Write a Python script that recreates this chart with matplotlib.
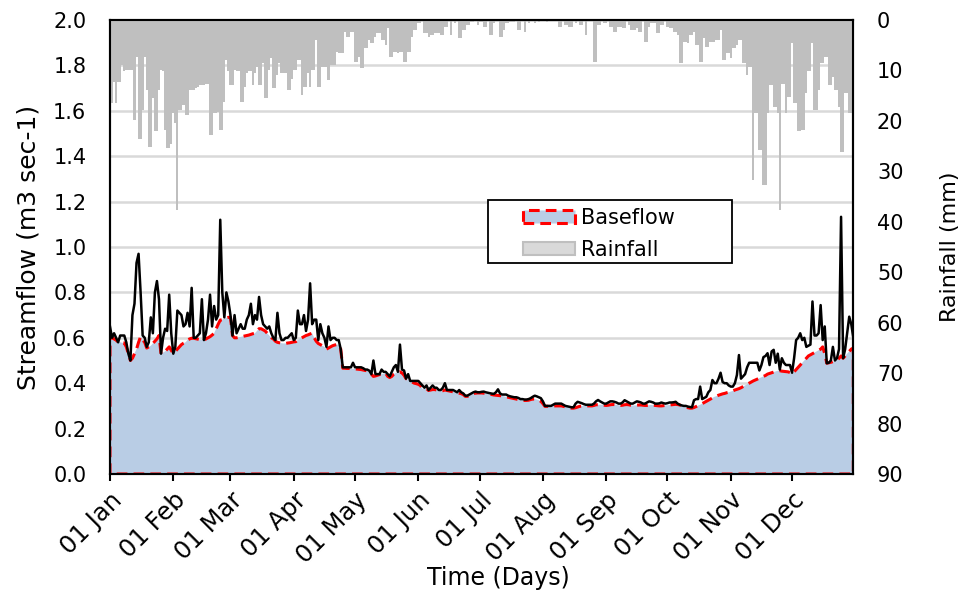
import matplotlib

matplotlib.use("Agg")
import matplotlib.pyplot as plt
import numpy as np
from matplotlib.patches import Patch, Rectangle

# daily streamflow (m3/s), day 0 = 01 Jan
flow = [
    0.65, 0.60, 0.62, 0.60, 0.58, 0.61, 0.61, 0.61, 0.58, 0.53,
    0.50, 0.70, 0.75, 0.93, 0.97, 0.80, 0.61, 0.60, 0.56, 0.58,
    0.69, 0.62, 0.80, 0.85, 0.77, 0.53, 0.60, 0.64, 0.63, 0.79,
    0.62, 0.53, 0.56, 0.72, 0.71, 0.70, 0.65, 0.66, 0.71, 0.65,
    0.82, 0.60, 0.60, 0.61, 0.62, 0.77, 0.59, 0.62, 0.68, 0.79,
    0.65, 0.74, 0.68, 0.70, 1.12, 0.80, 0.69, 0.80, 0.76, 0.70,
    0.61, 0.70, 0.62, 0.64, 0.66, 0.64, 0.64, 0.68, 0.70, 0.75,
    0.66, 0.70, 0.68, 0.78, 0.70, 0.66, 0.65, 0.64, 0.65, 0.62,
    0.60, 0.59, 0.71, 0.62, 0.59, 0.59, 0.60, 0.60, 0.61, 0.62,
    0.59, 0.60, 0.72, 0.66, 0.66, 0.70, 0.63, 0.68, 0.84, 0.66,
    0.68, 0.68, 0.59, 0.66, 0.62, 0.60, 0.56, 0.65, 0.59, 0.60,
    0.60, 0.59, 0.59, 0.55, 0.47, 0.47, 0.47, 0.47, 0.47, 0.49,
    0.47, 0.47, 0.47, 0.47, 0.466, 0.46, 0.46, 0.455, 0.44, 0.50,
    0.44, 0.44, 0.44, 0.46, 0.45, 0.45, 0.44, 0.43, 0.45, 0.47,
    0.48, 0.45, 0.57, 0.46, 0.456, 0.42, 0.44, 0.41, 0.41, 0.41,
    0.41, 0.41, 0.40, 0.39, 0.38, 0.39, 0.37, 0.38, 0.39, 0.38,
    0.38, 0.37, 0.37, 0.38, 0.40, 0.37, 0.37, 0.37, 0.37, 0.365,
    0.36, 0.37, 0.36, 0.355, 0.345, 0.345, 0.35, 0.355, 0.36, 0.363,
    0.36, 0.36, 0.362, 0.363, 0.36, 0.358, 0.356, 0.354, 0.353, 0.36,
    0.373, 0.355, 0.35, 0.35, 0.35, 0.345, 0.342, 0.34, 0.338, 0.338,
    0.335, 0.33, 0.33, 0.328, 0.328, 0.33, 0.334, 0.34, 0.345, 0.342,
    0.338, 0.334, 0.32, 0.30, 0.30, 0.30, 0.30, 0.305, 0.31, 0.31,
    0.31, 0.31, 0.305, 0.30, 0.298, 0.296, 0.294, 0.294, 0.31, 0.318,
    0.315, 0.312, 0.308, 0.305, 0.305, 0.305, 0.305, 0.31, 0.32, 0.326,
    0.32, 0.315, 0.31, 0.31, 0.315, 0.32, 0.32, 0.318, 0.315, 0.31,
    0.31, 0.315, 0.325, 0.32, 0.315, 0.31, 0.31, 0.315, 0.32, 0.318,
    0.315, 0.31, 0.31, 0.315, 0.32, 0.318, 0.315, 0.31, 0.31, 0.311,
    0.315, 0.312, 0.31, 0.312, 0.315, 0.315, 0.316, 0.318, 0.31, 0.305,
    0.302, 0.30, 0.30, 0.297, 0.295, 0.294, 0.325, 0.33, 0.33, 0.385,
    0.33, 0.335, 0.34, 0.36, 0.37, 0.414, 0.40, 0.40, 0.42, 0.446,
    0.405, 0.40, 0.40, 0.39, 0.385, 0.385, 0.40, 0.436, 0.524, 0.42,
    0.43, 0.44, 0.47, 0.49, 0.49, 0.49, 0.49, 0.49, 0.456, 0.48,
    0.515, 0.52, 0.532, 0.48, 0.54, 0.547, 0.49, 0.53, 0.46, 0.51,
    0.49, 0.48, 0.48, 0.48, 0.446, 0.51, 0.59, 0.60, 0.62, 0.59,
    0.60, 0.56, 0.565, 0.57, 0.76, 0.61, 0.61, 0.62, 0.744, 0.59,
    0.65, 0.488, 0.49, 0.50, 0.56, 0.50, 0.51, 0.55, 1.133, 0.51,
    0.55, 0.62, 0.693, 0.66, 0.60,
]

# separated baseflow (m3/s)
baseflow = [
    0.60, 0.60, 0.595, 0.59, 0.58, 0.58, 0.578, 0.577, 0.56, 0.53,
    0.50, 0.51, 0.53, 0.55, 0.58, 0.605, 0.59, 0.58, 0.555, 0.56,
    0.565, 0.575, 0.585, 0.595, 0.61, 0.53, 0.535, 0.54, 0.55, 0.56,
    0.545, 0.53, 0.54, 0.55, 0.56, 0.57, 0.576, 0.58, 0.59, 0.595,
    0.598, 0.598, 0.596, 0.594, 0.592, 0.59, 0.59, 0.595, 0.60, 0.605,
    0.612, 0.62, 0.64, 0.66, 0.678, 0.68, 0.685, 0.688, 0.69, 0.69,
    0.61, 0.60, 0.60, 0.602, 0.604, 0.606, 0.608, 0.61, 0.612, 0.615,
    0.618, 0.62, 0.63, 0.64, 0.64, 0.635, 0.63, 0.62, 0.61, 0.60,
    0.595, 0.585, 0.58, 0.578, 0.576, 0.575, 0.575, 0.577, 0.578, 0.58,
    0.582, 0.583, 0.59, 0.595, 0.60, 0.605, 0.61, 0.613, 0.617, 0.62,
    0.60, 0.585, 0.575, 0.57, 0.565, 0.56, 0.55, 0.555, 0.56, 0.565,
    0.568, 0.57, 0.57, 0.55, 0.466, 0.466, 0.465, 0.465, 0.464, 0.464,
    0.463, 0.462, 0.461, 0.46, 0.458, 0.456, 0.455, 0.45, 0.44, 0.43,
    0.432, 0.435, 0.438, 0.44, 0.442, 0.444, 0.43, 0.425, 0.43, 0.44,
    0.445, 0.447, 0.45, 0.445, 0.435, 0.42, 0.415, 0.41, 0.405, 0.40,
    0.398, 0.395, 0.39, 0.375, 0.375, 0.375, 0.368, 0.37, 0.372, 0.372,
    0.37, 0.368, 0.366, 0.367, 0.37, 0.368, 0.366, 0.364, 0.362, 0.36,
    0.358, 0.356, 0.354, 0.35, 0.342, 0.342, 0.345, 0.35, 0.355, 0.356,
    0.357, 0.357, 0.357, 0.356, 0.355, 0.354, 0.352, 0.35, 0.348, 0.347,
    0.346, 0.345, 0.344, 0.342, 0.34, 0.338, 0.336, 0.334, 0.332, 0.33,
    0.328, 0.326, 0.325, 0.324, 0.324, 0.325, 0.328, 0.33, 0.33, 0.328,
    0.325, 0.32, 0.31, 0.298, 0.298, 0.298, 0.298, 0.299, 0.30, 0.30,
    0.30, 0.30, 0.298, 0.296, 0.294, 0.292, 0.29, 0.29, 0.292, 0.295,
    0.298, 0.299, 0.30, 0.30, 0.30, 0.30, 0.30, 0.302, 0.305, 0.305,
    0.305, 0.305, 0.303, 0.302, 0.303, 0.305, 0.306, 0.306, 0.305, 0.303,
    0.302, 0.303, 0.305, 0.306, 0.305, 0.303, 0.302, 0.302, 0.303, 0.304,
    0.304, 0.303, 0.302, 0.302, 0.303, 0.304, 0.303, 0.302, 0.301, 0.30,
    0.30, 0.301, 0.302, 0.303, 0.304, 0.305, 0.306, 0.307, 0.306, 0.304,
    0.30, 0.297, 0.294, 0.292, 0.29, 0.29, 0.293, 0.297, 0.301, 0.305,
    0.31, 0.315, 0.32, 0.325, 0.33, 0.335, 0.34, 0.343, 0.347, 0.35,
    0.353, 0.355, 0.358, 0.36, 0.363, 0.366, 0.37, 0.373, 0.376, 0.38,
    0.385, 0.39, 0.395, 0.40, 0.405, 0.41, 0.414, 0.418, 0.422, 0.426,
    0.43, 0.434, 0.44, 0.443, 0.446, 0.449, 0.452, 0.455, 0.455, 0.453,
    0.452, 0.451, 0.45, 0.447, 0.44, 0.45, 0.46, 0.47, 0.48, 0.49,
    0.50, 0.51, 0.52, 0.525, 0.53, 0.535, 0.54, 0.545, 0.55, 0.56,
    0.53, 0.488, 0.49, 0.492, 0.495, 0.498, 0.50, 0.51, 0.52, 0.51,
    0.52, 0.53, 0.54, 0.55, 0.555,
]

# daily rainfall (mm)
rainfall = [
    16.5, 16.5, 12.2, 16.5, 12.2, 12.2, 8.9, 10.2, 9.9, 9.9,
    9.9, 9.9, 19.8, 7.3, 23.5, 23.5, 17.8, 7.3, 13.9, 25.1,
    25.1, 15.5, 22.1, 22.1, 13.9, 9.9, 10.2, 21.8, 25.4, 25.4,
    24.5, 18.5, 20.5, 37.7, 17.8, 17.8, 16.8, 18.8, 18.8, 13.9,
    13.9, 13.9, 13.5, 13.2, 12.9, 12.9, 12.9, 12.6, 12.6, 22.8,
    22.8, 18.5, 18.5, 18.2, 21.8, 21.8, 16.2, 7.9, 10.2, 12.9,
    12.9, 9.9, 10.2, 10.2, 16.2, 16.2, 13.2, 10.6, 10.2, 10.2,
    12.9, 10.6, 9.3, 12.9, 12.9, 8.6, 15.5, 15.5, 9.9, 7.6,
    13.5, 13.5, 10.9, 8.6, 10.6, 10.6, 10.6, 13.9, 13.9, 11.6,
    9.9, 9.9, 7.9, 7.9, 14.9, 13.2, 13.2, 10.6, 13.2, 9.9,
    9.9, 4.0, 13.2, 13.2, 9.3, 9.3, 9.3, 11.9, 8.9, 8.9,
    8.9, 6.3, 6.6, 6.6, 6.6, 2.3, 3.3, 3.3, 2.3, 2.3,
    8.3, 8.3, 7.3, 9.6, 9.6, 5.6, 5.6, 4.0, 4.6, 4.6,
    3.3, 2.6, 2.6, 4.0, 4.0, 5.0, 1.65, 7.3, 7.3, 6.3,
    6.3, 6.6, 6.3, 6.3, 8.3, 8.3, 6.3, 6.3, 3.3, 2.0,
    2.0, 0.66, 0.66, 0, 2.6, 2.6, 3.3, 3.0, 3.0, 2.6,
    2.6, 2.6, 3.0, 3.0, 1.3, 1.3, 0, 3.0, 0, 0.66,
    0, 3.6, 3.6, 2.0, 2.0, 1.0, 1.0, 0.33, 0.33, 0,
    1.0, 0.33, 0.33, 1.3, 1.3, 0, 3.0, 3.0, 0.66, 0,
    0, 3.3, 3.3, 2.0, 0.66, 0.66, 0.33, 0.33, 0.33, 0,
    2.0, 2.0, 0, 2.3, 0, 0.66, 0, 0, 0.66, 0,
    0.33, 0, 0, 0, 0.33, 0, 0, 0, 0, 0,
    1.3, 1.3, 0, 1.0, 1.0, 1.3, 1.3, 0, 0.66, 0,
    1.0, 1.0, 0, 3.0, 0, 0, 0, 8.3, 8.3, 1.0,
    1.0, 0, 0.66, 0.66, 0, 1.3, 1.3, 2.3, 2.3, 1.3,
    1.3, 1.65, 1.65, 0, 1.0, 2.0, 2.0, 2.0, 1.65, 2.3,
    2.3, 0, 4.3, 4.3, 1.3, 0.66, 0.66, 0.66, 2.6, 2.6,
    1.0, 1.0, 0, 1.3, 1.65, 1.65, 2.3, 2.3, 3.0, 8.6,
    8.6, 4.3, 4.3, 4.6, 3.0, 3.0, 2.3, 5.0, 5.0, 8.3,
    8.3, 3.6, 5.3, 5.3, 4.3, 4.3, 4.3, 4.0, 4.0, 2.0,
    7.9, 7.9, 6.6, 6.6, 7.6, 5.6, 5.6, 5.0, 4.0, 4.0,
    8.6, 8.6, 10.9, 9.3, 9.3, 31.7, 18.5, 18.5, 25.8, 25.8,
    32.7, 32.7, 18.5, 12.9, 12.9, 17.2, 17.2, 18.5, 37.7, 12.6,
    12.6, 18.5, 15.2, 15.2, 4.6, 16.5, 16.5, 22.1, 22.1, 21.8,
    21.8, 14.5, 10.2, 10.2, 4.6, 17.8, 17.8, 13.9, 8.6, 8.6,
    7.3, 7.3, 12.9, 12.9, 11.2, 13.9, 13.9, 17.2, 26.1, 26.1,
    14.5, 14.5, 18.5, 18.5, 10.2,
]

month_start = [0, 31, 59, 90, 120, 151, 181, 212, 243, 273, 304, 334]
month_labels = ["01 Jan", "01 Feb", "01 Mar", "01 Apr", "01 May", "01 Jun",
                "01 Jul", "01 Aug", "01 Sep", "01 Oct", "01 Nov", "01 Dec"]

plt.rcParams["font.family"] = ["DejaVu Sans"]

days = np.arange(len(flow))

fig, ax = plt.subplots(figsize=(9.63, 5.99), dpi=100)
fig.subplots_adjust(left=0.1142, right=0.8861, top=0.9666, bottom=0.2087)

ax.set_axisbelow(True)
ax.grid(axis="y", color="#d9d9d9", linewidth=1.8, zorder=0)
ax.fill_between(days, baseflow, 0, facecolor="#b9cde5", edgecolor="#ff0000",
                linestyle=(0, (3.5, 2)), linewidth=2.2, zorder=2)
ax.plot(days, flow, color="black", linewidth=1.8, zorder=3)

ax.set_xlim(0, 364)
ax.set_ylim(0, 2.0)
ax.set_yticks(np.arange(0, 2.01, 0.2))
ax.set_yticklabels([f"{v:.1f}" for v in np.arange(0, 2.01, 0.2)])
ax.set_xticks(month_start)
ax.set_xticklabels(month_labels, rotation=45, ha="right", rotation_mode="anchor")
ax.tick_params(axis="x", length=5, width=1.5, labelsize=17.5, pad=5)
ax.tick_params(axis="y", length=0, labelsize=15, pad=17)
ax.set_xlabel("Time (Days)", fontsize=17)
ax.xaxis.set_label_coords(0.522, -0.203)
ax.set_ylabel("Streamflow (m3 sec-1)", fontsize=18, labelpad=9)

# rainfall hangs from the top on an inverted secondary axis
ax2 = ax.twinx()
ax2.bar(days, rainfall, width=1.0, color="#bfbfbf", linewidth=0, zorder=2)
ax2.set_ylim(90, 0)
ax2.set_yticks(np.arange(0, 91, 10))
ax2.tick_params(axis="y", length=0, labelsize=15, pad=17)
ax2.set_ylabel("Rainfall (mm)", fontsize=16, labelpad=26)

for a in (ax, ax2):
    for sp in a.spines.values():
        sp.set_linewidth(1.5)
        sp.set_color("black")

# legend box
ax2.add_patch(Rectangle((0.5087, 0.4637), 0.328, 0.1398, transform=ax2.transAxes,
                        facecolor="white", edgecolor="black", linewidth=1.3, zorder=5))
handles = [
    Patch(facecolor="#b9cde5", edgecolor="#ff0000", linestyle=(0, (3.5, 2)), linewidth=2.2),
    Patch(facecolor="#d9d9d9", edgecolor="#bfbfbf", linewidth=1.5),
]
leg = ax2.legend(handles, ["Baseflow", "Rainfall"], loc="upper left",
                 bbox_to_anchor=(0.555, 0.586), frameon=False, fontsize=15,
                 handlelength=2.5, handleheight=0.62, handletextpad=0.3,
                 labelspacing=0.58, borderpad=0, borderaxespad=0)
leg.set_zorder(6)

fig.savefig("out.png", dpi=100)
